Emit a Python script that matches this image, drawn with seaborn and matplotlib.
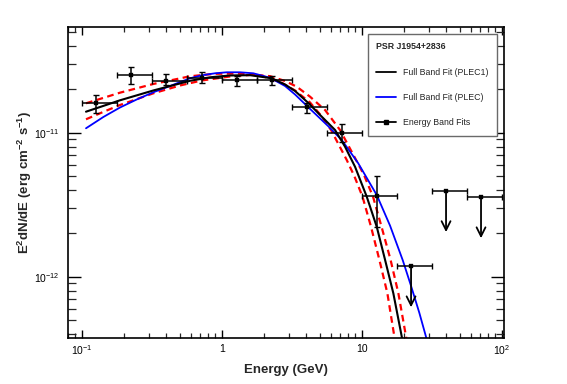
import matplotlib
matplotlib.use("Agg")
import matplotlib.pyplot as plt
import matplotlib.ticker as mticker
from matplotlib.lines import Line2D
import numpy as np
import pandas as pd
import seaborn as sns

# ---------------- data ----------------
# Energy band fits (GeV, erg cm^-2 s^-1)
band_e = [0.126, 0.225, 0.40, 0.72, 1.28, 2.28, 4.05, 7.2, 12.8]
band_lo = [0.1, 0.178, 0.316, 0.562, 1.0, 1.78, 3.16, 5.62, 10.0]
band_hi = [0.178, 0.316, 0.562, 1.0, 1.78, 3.16, 5.62, 10.0, 17.8]
band_flux = [1.60e-11, 2.52e-11, 2.30e-11, 2.41e-11, 2.32e-11, 2.32e-11, 1.50e-11, 9.9e-12, 3.64e-12]
band_flux_up = [1.83e-11, 2.85e-11, 2.56e-11, 2.63e-11, 2.49e-11, 2.49e-11, 1.62e-11, 1.15e-11, 5.0e-12]
band_flux_down = [1.37e-11, 2.18e-11, 2.14e-11, 2.20e-11, 2.12e-11, 2.14e-11, 1.36e-11, 8.6e-12, 2.22e-12]

# Upper limits
ul_e = [22.5, 40.0, 71.1]
ul_lo = [17.8, 31.6, 56.2]
ul_hi = [31.6, 56.2, 100.0]
ul_flux = [1.19e-12, 3.96e-12, 3.59e-12]

# Full band fit PLEC1 (black)
plec1_e = [0.1073, 0.142, 0.1878, 0.3246, 0.5937, 0.825, 1.146, 1.593, 2.276, 2.832,
           3.339, 4.155, 5.179, 6.447, 7.598, 8.955, 10.86, 12.8, 14.67, 16.81, 19.31, 20.05]
plec1_f = [1.399e-11, 1.532e-11, 1.679e-11, 1.964e-11, 2.293e-11, 2.425e-11, 2.496e-11,
           2.508e-11, 2.387e-11, 2.161e-11, 1.948e-11, 1.608e-11, 1.292e-11, 1.044e-11,
           7.99e-12, 5.80e-12, 3.59e-12, 2.22e-12, 1.31e-12, 7.67e-13, 3.83e-13, 3.0e-13]

# Full band fit PLEC (blue)
plec_e = [0.1073, 0.1427, 0.1877, 0.2471, 0.3246, 0.4273, 0.5937, 0.7197, 0.8955, 1.0857,
          1.351, 1.682, 2.213, 2.832, 3.339, 4.134, 5.744, 7.197, 9.41, 12.8, 15.93, 19.63,
          22.5, 25.79, 28.8, 29.76]
plec_f = [1.073e-11, 1.285e-11, 1.496e-11, 1.701e-11, 1.908e-11, 2.110e-11, 2.387e-11,
          2.504e-11, 2.585e-11, 2.627e-11, 2.627e-11, 2.585e-11, 2.406e-11, 2.110e-11,
          1.842e-11, 1.508e-11, 1.113e-11, 8.90e-12, 6.16e-12, 3.69e-12, 2.26e-12, 1.30e-12,
          8.62e-13, 5.60e-13, 3.81e-13, 3.30e-13]

# PLEC1 uncertainty curves (red dashed)
err_a_e = [0.1073, 0.142, 0.1877, 0.3246, 0.5937, 0.8955, 1.351, 1.941, 2.609, 3.339, 4.273,
           5.078, 6.036, 7.814, 8.884, 10.13, 11.65, 13.36, 15.24, 17.10, 17.58]
err_a_f = [1.600e-11, 1.742e-11, 1.896e-11, 2.179e-11, 2.465e-11, 2.564e-11, 2.577e-11,
           2.476e-11, 2.250e-11, 1.964e-11, 1.621e-11, 1.327e-11, 1.044e-11, 6.46e-12,
           4.95e-12, 3.59e-12, 2.22e-12, 1.31e-12, 7.67e-13, 3.83e-13, 3.0e-13]
err_b_e = [0.1073, 0.142, 0.1877, 0.3246, 0.5035, 0.7197, 1.1463, 1.682, 2.213, 2.832, 3.434,
           4.273, 5.469, 6.998, 8.955, 10.38, 12.04, 13.85, 16.06, 18.26, 20.72, 21.42]
err_b_f = [1.239e-11, 1.392e-11, 1.557e-11, 1.877e-11, 2.127e-11, 2.304e-11, 2.457e-11,
           2.528e-11, 2.469e-11, 2.286e-11, 2.086e-11, 1.778e-11, 1.437e-11, 1.044e-11,
           6.67e-12, 5.08e-12, 3.59e-12, 2.22e-12, 1.31e-12, 7.67e-13, 3.83e-13, 3.0e-13]

x_ticks = [0.1, 1.0, 10.0, 100.0]
x_tick_labels = [r"$10^{-1}$", "1", "10", r"$10^{2}$"]
y_ticks = [1e-12, 1e-11]
y_tick_labels = [r"$10^{-12}$", r"$10^{-11}$"]

legend_title = "PSR J1954+2836"
legend_labels = ["Full Band Fit (PLEC1)", "Full Band Fit (PLEC)", "Energy Band Fits"]

# ---------------- style ----------------
sns.set_theme(style="ticks")
plt.rcParams["font.family"] = ["Liberation Sans", "DejaVu Sans"]
plt.rcParams["mathtext.fontset"] = "custom"
plt.rcParams["mathtext.rm"] = "Liberation Sans"
plt.rcParams["mathtext.bf"] = "Liberation Sans:bold"
plt.rcParams["mathtext.it"] = "Liberation Sans:italic"
plt.rcParams["mathtext.default"] = "regular"

fig = plt.figure(figsize=(5.67, 3.84), dpi=100)
ax = fig.add_axes([68 / 567, 46 / 384, 436 / 567, 311 / 384])
ax.set_xscale("log")
ax.set_yscale("log")

# curves
red = "#ff0000"
sns.lineplot(x=err_a_e, y=err_a_f, ax=ax, color=red, linewidth=1.6,
             linestyle=(0, (3, 2)), estimator=None, sort=False)
sns.lineplot(x=err_b_e, y=err_b_f, ax=ax, color=red, linewidth=1.6,
             linestyle=(0, (3, 2)), estimator=None, sort=False)
sns.lineplot(x=plec_e, y=plec_f, ax=ax, color="#0000ff", linewidth=1.3,
             estimator=None, sort=False)
sns.lineplot(x=plec1_e, y=plec1_f, ax=ax, color="black", linewidth=1.5,
             estimator=None, sort=False)

# energy band points
be = np.array(band_e)
bf = np.array(band_flux)
xerr = [be - np.array(band_lo), np.array(band_hi) - be]
yerr = [bf - np.array(band_flux_down), np.array(band_flux_up) - bf]
ax.errorbar(be, bf, xerr=xerr, yerr=yerr, fmt="none", ecolor="black",
            elinewidth=1.1, capsize=2.2, capthick=1.0, zorder=5)
sns.scatterplot(x=band_e, y=band_flux, ax=ax, marker="s", s=9, color="black",
                edgecolor="black", zorder=6)

# upper limits
ue = np.array(ul_e)
uf = np.array(ul_flux)
ax.errorbar(ue, uf, xerr=[ue - np.array(ul_lo), np.array(ul_hi) - ue], fmt="none",
            ecolor="black", elinewidth=1.1, capsize=2.2, capthick=1.0, zorder=5)
sns.scatterplot(x=ul_e, y=ul_flux, ax=ax, marker="s", s=9, color="black",
                edgecolor="black", zorder=6)
for e, f in zip(ul_e, ul_flux):
    ax.annotate("", xy=(e, f * 0.515), xytext=(e, f),
                arrowprops=dict(arrowstyle="->", lw=1.3, color="black",
                                mutation_scale=16, shrinkA=0, shrinkB=0),
                zorder=6)

# axes
ax.set_xlim(10 ** -1.098, 10 ** 2.016)
ax.set_ylim(10 ** -12.426, 10 ** -10.266)

ax.xaxis.set_major_locator(mticker.FixedLocator(x_ticks))
ax.xaxis.set_major_formatter(mticker.FixedFormatter(x_tick_labels))
ax.yaxis.set_major_locator(mticker.FixedLocator(y_ticks))
ax.yaxis.set_major_formatter(mticker.FixedFormatter(y_tick_labels))
ax.xaxis.set_minor_locator(mticker.LogLocator(base=10, subs=np.arange(2, 10), numticks=20))
ax.yaxis.set_minor_locator(mticker.LogLocator(base=10, subs=np.arange(2, 10), numticks=20))
ax.xaxis.set_minor_formatter(mticker.NullFormatter())
ax.yaxis.set_minor_formatter(mticker.NullFormatter())

ax.tick_params(axis="x", which="major", direction="in", length=6, width=1.0,
               top=True, bottom=True, labelsize=7.5, pad=4, colors="black")
ax.tick_params(axis="x", which="minor", direction="in", length=3.3, width=0.9,
               top=True, bottom=True)
ax.tick_params(axis="y", which="major", direction="in", length=9.5, width=1.0,
               left=True, right=True, labelsize=7.5, pad=6, colors="black")
ax.tick_params(axis="y", which="minor", direction="in", length=5.5, width=0.9,
               left=True, right=True)
for sp in ax.spines.values():
    sp.set_linewidth(1.2)
    sp.set_color("black")
    sp.set_visible(True)

ax.set_xlabel("Energy (GeV)", fontsize=9.5, fontweight="bold", labelpad=5)
ax.set_ylabel(r"$\mathbf{E^{2}dN/dE\ (erg\ cm^{-2}\ s^{-1})}$", fontsize=9.5, labelpad=1)
ax.yaxis.set_label_coords(-0.079, 0.5)

# legend
handles = [
    Line2D([], [], color="black", lw=1.3),
    Line2D([], [], color="#0000ff", lw=1.3),
    Line2D([], [], color="black", lw=1.3, marker="s", markersize=2.5),
]
leg = ax.legend(handles, legend_labels, title=legend_title, loc="upper left",
                bbox_to_anchor=(368 / 567, 350 / 384), bbox_transform=fig.transFigure,
                fontsize=6.3, title_fontproperties={"weight": "bold", "size": 6.3},
                alignment="left", handlelength=2.3, handletextpad=0.75,
                labelspacing=1.85, borderpad=0.95, borderaxespad=0,
                frameon=True, fancybox=False, framealpha=1.0, edgecolor="#6a6a6a")
leg.get_frame().set_linewidth(1.0)
leg._legend_box.sep = 12
leg.set_zorder(10)

fig.savefig("out.png", dpi=100)
